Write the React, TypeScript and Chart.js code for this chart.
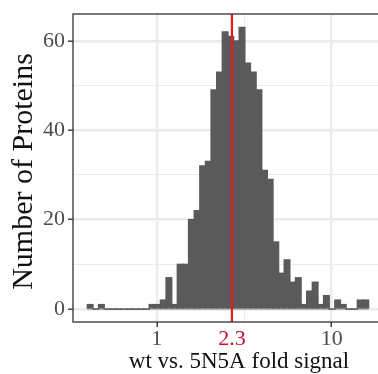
import React, { useEffect, useRef } from "react";
import { Chart, registerables } from "chart.js";

Chart.register(...registerables);

// Histogram bins (equal width on log10 of fold signal)
const binStartLog10 = -0.397;
const binWidthLog10 = 0.03216;
const binCounts = [
  1, 0, 1, 0, 0, 0, 0, 0, 0, 0, 0,
  1, 1, 2, 7, 1, 10, 10, 20, 22, 32,
  33, 49, 53, 62, 61, 60, 63, 55, 53, 49,
  31, 29, 15, 8, 11, 6, 7, 1, 4, 6,
  1, 3, 0, 2, 1, 0, 0, 2, 2,
];

const xMajorValues = [1, 10];
const xMajorLabels = ["1", "10"];
const xMinorValues = [3.1623];
const xMin = 0.332;
const xMax = 18.4;

const yMajorValues = [0, 20, 40, 60];
const yMinorValues = [10, 30, 50];
const yMin = -2.89;
const yMax = 66;

const markerValue = 2.69;
const markerLabel = "2.3";

const xTitle = "wt vs. 5N5A fold signal";
const yTitle = "Number of Proteins";

const FONT = '"Liberation Serif", "Times New Roman", serif';
const BAR = "#595a59";
const GRID = "#EBEBEB";
const AXIS = "#333333";
const TICK_TEXT = "#4D4D4D";
const RED_LINE = "#E41A1C";
const RED_TEXT = "#C8102E";

export default function App() {
  const ref = useRef<HTMLCanvasElement | null>(null);

  useEffect(() => {
    const canvas = ref.current;
    if (!canvas) return;

    const markerLog = Math.log10(markerValue);
    const xTickList: { value: number; kind: string; label: string }[] = [];
    xMajorValues.forEach((v, i) =>
      xTickList.push({ value: Math.log10(v), kind: "major", label: xMajorLabels[i] })
    );
    xMinorValues.forEach((v) => xTickList.push({ value: Math.log10(v), kind: "minor", label: "" }));
    xTickList.push({ value: markerLog, kind: "marker", label: markerLabel });
    xTickList.sort((a, b) => a.value - b.value);

    const yTickList = [...yMajorValues, ...yMinorValues].sort((a, b) => a - b);

    const data = binCounts.map((c, i) => ({
      x: binStartLog10 + (i + 0.5) * binWidthLog10,
      y: c,
    }));

    const decor = {
      id: "decor",
      beforeDatasetsDraw(chart: any) {
        const { ctx } = chart;
        const xs = chart.scales.x;
        const ys = chart.scales.y;
        const y0 = ys.getPixelForValue(0);
        const xl = xs.getPixelForValue(binStartLog10);
        const xr = xs.getPixelForValue(binStartLog10 + binCounts.length * binWidthLog10);
        ctx.save();
        ctx.strokeStyle = "#8a8a8a";
        ctx.lineWidth = 1;
        ctx.beginPath();
        ctx.moveTo(xl, y0);
        ctx.lineTo(xr, y0);
        ctx.stroke();
        ctx.restore();
      },
      afterDatasetsDraw(chart: any) {
        const { ctx, chartArea } = chart;
        const xs = chart.scales.x;
        const mx = xs.getPixelForValue(markerLog);
        ctx.save();
        ctx.strokeStyle = RED_LINE;
        ctx.lineWidth = 2.2;
        ctx.beginPath();
        ctx.moveTo(mx, chartArea.top);
        ctx.lineTo(mx, chartArea.bottom);
        ctx.stroke();
        ctx.strokeStyle = AXIS;
        ctx.lineWidth = 1.3;
        ctx.strokeRect(chartArea.left, chartArea.top, chartArea.right - chartArea.left + 10, chartArea.bottom - chartArea.top);
        ctx.restore();
      },
      afterDraw(chart: any) {
        const { ctx, chartArea } = chart;
        ctx.save();
        ctx.fillStyle = "#111111";
        ctx.textAlign = "center";
        ctx.textBaseline = "alphabetic";
        ctx.font = `23px ${FONT}`;
        ctx.fillText(xTitle, (chartArea.left + chartArea.right + 27) / 2, chart.height - 6);
        ctx.translate(chartArea.left - 41, (chartArea.top + chartArea.bottom) / 2 + 3.5);
        ctx.rotate(-Math.PI / 2);
        ctx.font = `30px ${FONT}`;
        ctx.fillText(yTitle, 0, 0);
        ctx.restore();
      },
    };

    const chart = new Chart(canvas, {
      type: "bar",
      data: {
        datasets: [
          {
            data: data as any,
            backgroundColor: BAR,
            borderColor: BAR,
            borderWidth: 0,
            inflateAmount: 0.7,
            barPercentage: 1,
            categoryPercentage: 1,
          } as any,
        ],
      },
      options: {
        animation: false,
        responsive: false,
        maintainAspectRatio: false,
        layout: { padding: { top: 12, right: 0, left: 0, bottom: 0 } },
        plugins: { legend: { display: false }, tooltip: { enabled: false } },
        scales: {
          x: {
            type: "linear",
            offset: false,
            min: Math.log10(xMin),
            max: Math.log10(xMax),
            afterFit(scale: any) {
              scale.height = 52;
            },
            afterBuildTicks(scale: any) {
              scale.ticks = xTickList.map((t) => ({ value: t.value }));
            },
            border: { display: false },
            grid: {
              offset: false,
              drawTicks: true,
              tickLength: 5,
              color: (c: any) => {
                const t = xTickList[c.index];
                return t && t.kind === "marker" ? "rgba(0,0,0,0)" : GRID;
              },
              lineWidth: (c: any) => {
                const t = xTickList[c.index];
                return t && t.kind === "major" ? 2.4 : 1.1;
              },
              tickColor: (c: any) => {
                const t = xTickList[c.index];
                return t && t.kind === "major" ? AXIS : "rgba(0,0,0,0)";
              },
              tickWidth: 1.4,
            },
            ticks: {
              autoSkip: false,
              maxRotation: 0,
              padding: 1,
              font: { family: FONT, size: 22, lineHeight: 1 },
              color: (c: any) => {
                const t = xTickList[c.index];
                return t && t.kind === "marker" ? RED_TEXT : TICK_TEXT;
              },
              callback: (_v: any, i: number) => xTickList[i]?.label ?? "",
            },
          },
          y: {
            type: "linear",
            min: yMin,
            max: yMax,
            afterFit(scale: any) {
              scale.width = 73;
            },
            afterBuildTicks(scale: any) {
              scale.ticks = yTickList.map((v) => ({ value: v }));
            },
            border: { display: false },
            grid: {
              drawTicks: true,
              tickLength: 5,
              color: GRID,
              lineWidth: (c: any) => (yMajorValues.includes(yTickList[c.index]) ? 2.4 : 1.1),
              tickColor: (c: any) =>
                yMajorValues.includes(yTickList[c.index]) ? AXIS : "rgba(0,0,0,0)",
              tickWidth: 1.4,
            },
            ticks: {
              autoSkip: false,
              padding: 3,
              font: { family: FONT, size: 22, lineHeight: 1 },
              color: TICK_TEXT,
              callback: (_v: any, i: number) => {
                const v = yTickList[i];
                return yMajorValues.includes(v) ? String(v) : "";
              },
            },
          },
        },
      },
      plugins: [decor],
    });

    return () => chart.destroy();
  }, []);

  return (
    <div style={{ position: "fixed", left: 0, top: 0, width: 378, height: 374, background: "#fff" }}>
      <canvas ref={ref} width={378} height={374} style={{ display: "block" }} />
    </div>
  );
}
